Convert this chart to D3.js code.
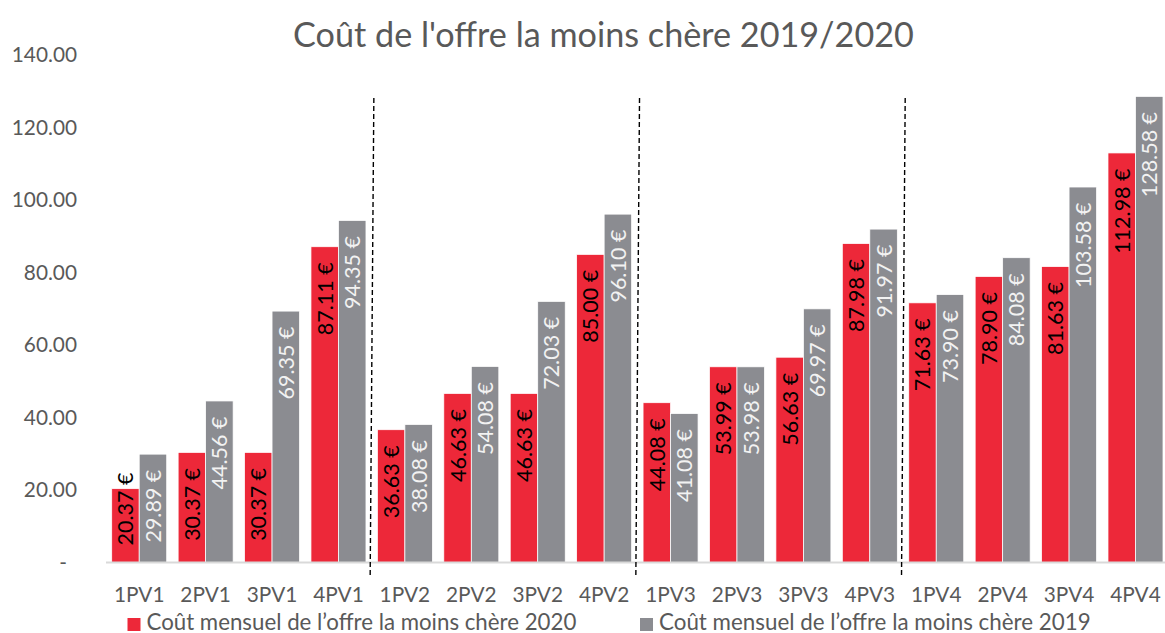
<!DOCTYPE html>
<html><head><meta charset="utf-8">
<script src="https://cdn.jsdelivr.net/npm/d3@7"></script>
<style>
html,body{margin:0;padding:0;background:#fff;}
svg{display:block;font-family:Lato, "Open Sans", sans-serif;}
</style></head>
<body><svg id="c" width="1165" height="633"></svg>
<script>
const categories = ["1PV1","2PV1","3PV1","4PV1","1PV2","2PV2","3PV2","4PV2","1PV3","2PV3","3PV3","4PV3","1PV4","2PV4","3PV4","4PV4"];
const values2020 = [20.37,30.37,30.37,87.11,36.63,46.63,46.63,85.00,44.08,53.99,56.63,87.98,71.63,78.90,81.63,112.98];
const values2019 = [29.89,44.56,69.35,94.35,38.08,54.08,72.03,96.10,41.08,53.98,69.97,91.97,73.90,84.08,103.58,128.58];
const yTicks = [0,20,40,60,80,100,120,140];
const seriesNames = ["Coût mensuel de l\u2019offre la moins chère 2020","Coût mensuel de l\u2019offre la moins chère 2019"];
const groupBreaks = ["1PV2","1PV3","1PV4"];
const title = "Coût de l'offre la moins chère 2019/2020";

const colors = ["#ED2839","#8B8C91"];
const labelColors = ["#000000","#F2F2F2"];
const svg = d3.select("#c");

const x = d3.scaleBand().domain(categories).range([106,1168.7]).paddingInner(0.172).paddingOuter(0.086);
const xs = d3.scaleBand().domain([0,1]).range([0,x.bandwidth()]);
const y = d3.scaleLinear().domain([0,140]).range([562.5,55]);

// fit helper: scale font so the text spans a given width
function fit(t, size, width){
  t.attr("font-size",size);
  const w = t.node().getComputedTextLength();
  t.attr("font-size", size*width/w);
}

// title
const tt = svg.append("text").attr("x",603.5).attr("y",47).attr("text-anchor","middle")
  .attr("fill","#595959").text(title);
fit(tt, 30, 621);

// y axis labels
svg.append("g").selectAll("text").data(yTicks).join("text")
  .attr("x",d=>d===0?67:77).attr("y",d=>y(d)).attr("dy","0.35em")
  .attr("text-anchor","end").attr("font-size",20.8).attr("fill","#595959")
  .text(d=>d===0?"-":d3.format(".2f")(d));

// bars
const series = [values2020, values2019];
const data = [];
categories.forEach((c,i)=>{ series.forEach((s,k)=>data.push({c, k, v:s[i]})); });
const gb = svg.append("g");
gb.selectAll("rect").data(data).join("rect")
  .attr("x",d=>x(d.c)+xs(d.k)).attr("width",xs.bandwidth())
  .attr("y",d=>y(d.v)).attr("height",d=>y(0)-y(d.v))
  .attr("fill",d=>colors[d.k]).attr("stroke","#fff").attr("stroke-width",0.75);

// axis line
svg.append("line").attr("x1",x.range()[0]).attr("x2",x.range()[1])
  .attr("y1",y(0)).attr("y2",y(0)).attr("stroke","#D9D9D9").attr("stroke-width",1.8);

// data labels (rotated, inside end)
const gl = svg.append("g");
data.forEach(d=>{
  const cx = x(d.c)+xs(d.k)+xs.bandwidth()/2;
  const t = gl.append("text").attr("font-size",21.5).attr("fill",labelColors[d.k])
    .attr("text-anchor","end").attr("dominant-baseline","central")
    .text(d3.format(".2f")(d.v)+" €");
  const len = t.node().getComputedTextLength();
  let top = y(d.v)+15.5;
  if (top+len > y(0)-17) top = y(0)-17-len;
  t.attr("transform",`translate(${cx},${top}) rotate(-90)`);
});

// category labels
svg.append("g").selectAll("text").data(categories).join("text")
  .attr("x",d=>x(d)+x.bandwidth()/2).attr("y",602).attr("text-anchor","middle")
  .attr("font-size",20.8).attr("fill","#595959").text(d=>d);

// dashed separators
const sepStep = x.step();
groupBreaks.forEach(c=>{
  const b = x(c) - sepStep*x.paddingInner()/2;
  svg.append("line").attr("x1",b-1.5).attr("y1",575).attr("x2",b+2.2).attr("y2",95)
    .attr("stroke","#000").attr("stroke-width",1.4).attr("stroke-dasharray","5,3");
});

// legend
const lx = [127.5,640];
const lw = [430, 432];
seriesNames.forEach((n,k)=>{
  svg.append("rect").attr("x",lx[k]).attr("y",618).attr("width",13).attr("height",13).attr("fill",colors[k]);
  const t = svg.append("text").attr("x",lx[k]+19).attr("y",629.5).attr("fill","#595959").text(n);
  fit(t, 21, lw[k]);
});
</script></body></html>
